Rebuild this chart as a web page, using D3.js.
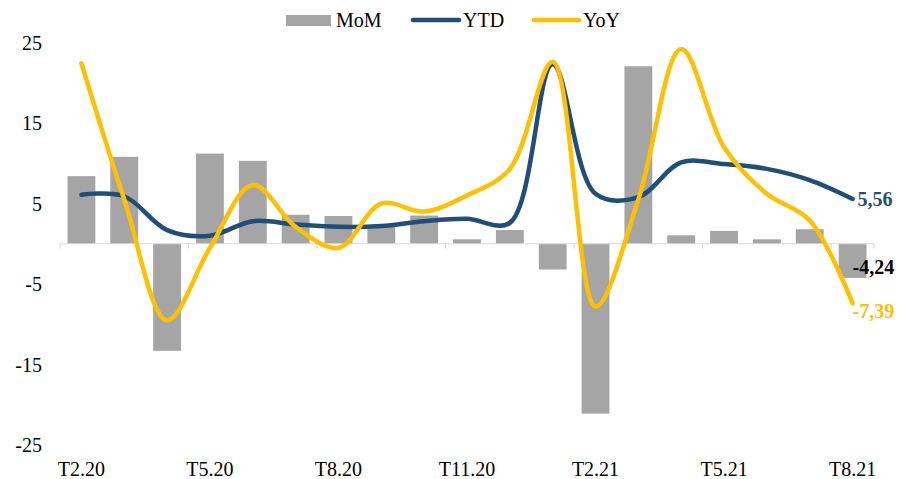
<!DOCTYPE html>
<html>
<head>
<meta charset="utf-8">
<script src="https://cdn.jsdelivr.net/npm/d3@7"></script>
<style>
  html, body { margin: 0; padding: 0; background: #fff; }
  svg { display: block; font-family: "Liberation Serif", "Times New Roman", serif; }
</style>
</head>
<body>
<svg id="chart" width="899" height="479"></svg>
<script>
// Monthly categories, Feb 2020 – Aug 2021
const months = ["T2.20","T3.20","T4.20","T5.20","T6.20","T7.20","T8.20","T9.20","T10.20","T11.20","T12.20",
                "T1.21","T2.21","T3.21","T4.21","T5.21","T6.21","T7.21","T8.21"];
const tickLabels = ["T2.20","T5.20","T8.20","T11.20","T2.21","T5.21","T8.21"];
const yTicks = [25, 15, 5, -5, -15, -25];

// Series values (%)
const mom = [8.4, 10.8, -13.3, 11.2, 10.3, 3.6, 3.45, 2.2, 3.5, 0.55, 1.7, -3.2, -21.1, 22.05, 1.05, 1.6, 0.55, 1.8, -4.24];
const ytd = [6.1, 5.9, 1.7, 1.0, 2.8, 2.4, 2.1, 2.2, 2.8, 3.1, 2.6, 22.3, 6.2, 5.8, 10.1, 9.9, 9.3, 7.9, 5.56];
const yoy = [22.4, 5.5, -9.5, -0.5, 7.3, 2.1, -0.5, 5.0, 4.0, 6.0, 9.3, 22.6, -7.8, 5.5, 24.2, 12.0, 6.2, 2.9, -7.39];

const colors = { mom: "#A5A5A5", ytd: "#1F4E79", yoy: "#FFC000" };

const svg = d3.select("#chart");

const x = d3.scaleBand().domain(months).range([60, 874]).paddingInner(0.35).paddingOuter(0.175);
const y = d3.scaleLinear().domain([-25, 25]).range([445, 42.5]);
const cx = d => x(d) + x.bandwidth() / 2;

// Bars
svg.append("g").selectAll("rect").data(months).join("rect")
  .attr("x", d => x(d))
  .attr("width", x.bandwidth())
  .attr("y", (d, i) => y(Math.max(0, mom[i])))
  .attr("height", (d, i) => Math.abs(y(mom[i]) - y(0)))
  .attr("fill", colors.mom);

// Zero axis with group tick marks
const axisG = svg.append("g");
axisG.append("line")
  .attr("x1", 60).attr("x2", 874)
  .attr("y1", y(0)).attr("y2", y(0))
  .attr("stroke", "#D9D9D9").attr("stroke-width", 1.2);
const step = x.step();
axisG.selectAll("line.tk").data(d3.range(0, months.length + 1, 3)).join("line")
  .attr("class", "tk")
  .attr("x1", i => 60 + i * step).attr("x2", i => 60 + i * step)
  .attr("y1", y(0)).attr("y2", y(0) + 5)
  .attr("stroke", "#D9D9D9").attr("stroke-width", 1.2);
axisG.append("line")
  .attr("x1", 874).attr("x2", 874).attr("y1", y(0)).attr("y2", y(0) + 5)
  .attr("stroke", "#D9D9D9").attr("stroke-width", 1.2);

// Y tick labels
svg.append("g").selectAll("text").data(yTicks).join("text")
  .attr("x", 42).attr("y", d => y(d))
  .attr("dy", "0.35em")
  .attr("text-anchor", "end")
  .attr("font-size", 20)
  .attr("fill", "#000")
  .text(d => d);

// X tick labels
svg.append("g").selectAll("text").data(tickLabels).join("text")
  .attr("x", d => cx(d)).attr("y", 476)
  .attr("text-anchor", "middle")
  .attr("font-size", 20)
  .attr("fill", "#000")
  .text(d => d);

// Smoothed lines
const line = d3.line().x((d, i) => cx(months[i])).y(d => y(d)).curve(d3.curveCatmullRom.alpha(0.5));
svg.append("path").datum(ytd).attr("d", line)
  .attr("fill", "none").attr("stroke", colors.ytd).attr("stroke-width", 4.5)
  .attr("stroke-linecap", "round").attr("stroke-linejoin", "round");
svg.append("path").datum(yoy).attr("d", line)
  .attr("fill", "none").attr("stroke", colors.yoy).attr("stroke-width", 4.5)
  .attr("stroke-linecap", "round").attr("stroke-linejoin", "round");

// End-point value labels
const last = months.length - 1;
const lx = cx(months[last]);
svg.append("text").attr("x", lx + 5).attr("y", y(ytd[last]) + 7)
  .attr("font-size", 20).attr("font-weight", "bold").attr("fill", colors.ytd)
  .text(d3.format(".2f")(ytd[last]).replace(".", ","));
svg.append("text").attr("x", lx).attr("y", y(mom[last]) - 4)
  .attr("font-size", 20).attr("font-weight", "bold").attr("fill", "#000")
  .text(d3.format(".2f")(mom[last]).replace(".", ",").replace("−", "-"));
svg.append("text").attr("x", lx).attr("y", y(yoy[last]) + 15)
  .attr("font-size", 20).attr("font-weight", "bold").attr("fill", colors.yoy)
  .text(d3.format(".2f")(yoy[last]).replace(".", ",").replace("−", "-"));

// Legend
const lg = svg.append("g").attr("font-size", 20);
lg.append("rect").attr("x", 286).attr("y", 15).attr("width", 45).attr("height", 11).attr("fill", colors.mom);
lg.append("text").attr("x", 336).attr("y", 27).text("MoM");
lg.append("line").attr("x1", 413).attr("x2", 459).attr("y1", 20).attr("y2", 20)
  .attr("stroke", colors.ytd).attr("stroke-width", 4.5).attr("stroke-linecap", "round");
lg.append("text").attr("x", 463).attr("y", 27).text("YTD");
lg.append("line").attr("x1", 534).attr("x2", 579).attr("y1", 20).attr("y2", 20)
  .attr("stroke", colors.yoy).attr("stroke-width", 4.5).attr("stroke-linecap", "round");
lg.append("text").attr("x", 583).attr("y", 27).text("YoY");
</script>
</body>
</html>
